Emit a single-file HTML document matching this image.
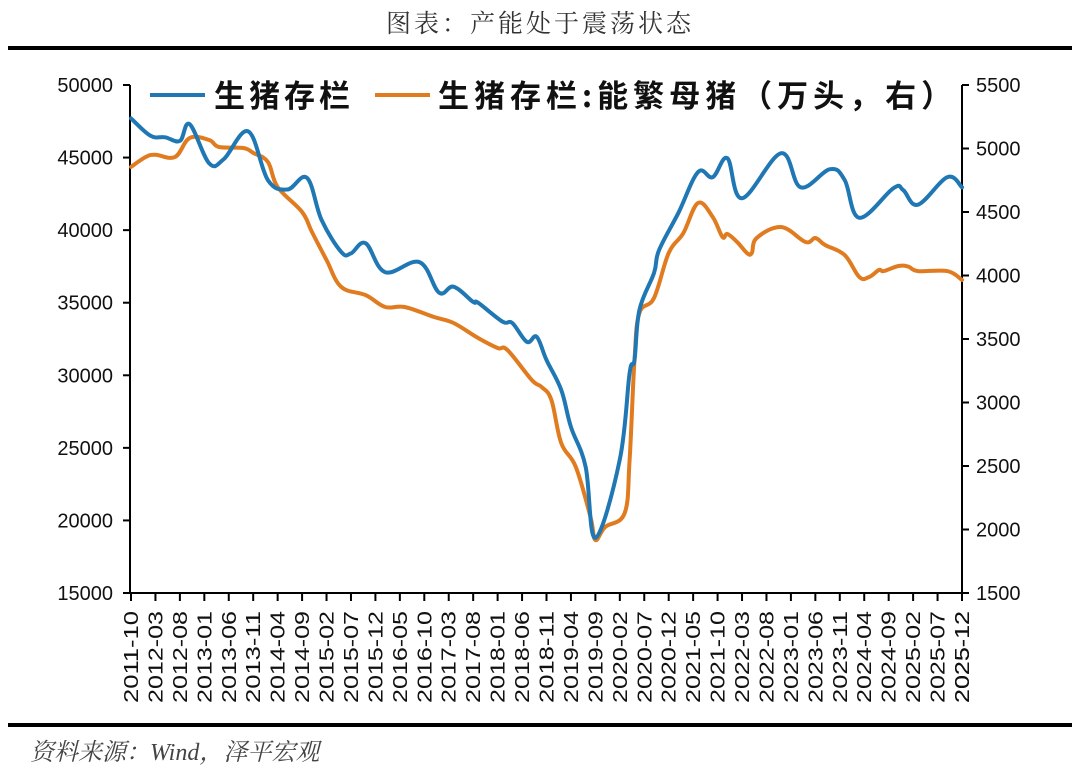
<!DOCTYPE html>
<html><head><meta charset="utf-8"><style>
body{margin:0;background:#fff;width:1080px;height:778px;overflow:hidden;font-family:"Liberation Sans","Noto Sans CJK SC",sans-serif}
</style></head><body>
<svg id="c" width="1080" height="778" xmlns="http://www.w3.org/2000/svg">
<text x="540" y="32" text-anchor="middle" font-size="25" fill="#333" font-family="'Noto Serif CJK SC',serif" letter-spacing="3">图表：产能处于震荡状态</text>
<rect x="8" y="46" width="1064" height="4" fill="#000"/>
<rect x="8" y="723" width="1064" height="4" fill="#000"/>
<text x="30" y="760" font-size="24" fill="#444" font-style="italic" font-family="'Liberation Serif','Noto Serif CJK SC',serif">资料来源：Wind，泽平宏观</text>
<g id="axes"></g>
<g id="series"></g>
<g>
<line x1="150" y1="95" x2="205" y2="95" stroke="#1f77b4" stroke-width="4"/>
<text x="214" y="107" font-size="31" font-weight="bold" fill="#111" font-family="'Noto Sans CJK SC',sans-serif" letter-spacing="4">生猪存栏</text>
<line x1="375" y1="95" x2="430" y2="95" stroke="#e07b20" stroke-width="4"/>
<text x="438" y="107" font-size="31" font-weight="bold" fill="#111" font-family="'Noto Sans CJK SC',sans-serif" letter-spacing="5">生猪存栏:能繁母猪（万头，右）</text>
</g>
</svg>
<script>
const months=[];for(let y=2011,m=10;months.length<171;){months.push(y+'-'+String(m).padStart(2,'0'));m++;if(m>12){m=1;y++;}}
const leftTicks=[15000,20000,25000,30000,35000,40000,45000,50000];
const rightTicks=[1500,2000,2500,3000,3500,4000,4500,5000,5500];
const blueIdx=[0,4,7,10,12,16,19,24,28,32,36,39,43,45,48,52,59,63,66,70,71,76,78,81,83,85,88,90,93,95,100,102,103,104,107,108,112,116,119,122,125,133,137,143,146,149,156,158,161,167,170];
const blueVal=[47700,46500,46400,46150,47300,44600,44900,46800,43450,42800,43600,40700,38500,38400,39100,37100,37800,35700,36100,35050,35000,33700,33600,32300,32650,31050,29000,26450,23700,18800,24200,30150,31050,34500,37050,38600,41200,44000,43650,44950,42200,45300,42950,44200,43450,40850,42900,42750,41750,43650,42950];
const orIdx=[0,3,5,9,12,16,18,23,25,28,30,35,37,40,43,48,52,56,62,66,71,75,77,82,84,86,88,91,94,95,97,101,102,103,104,107,110,113,116,119,121,122,124,126,127,128,133,138,140,142,146,149,151,153,154,157,159,161,167,170];
const orVal=[4855,4933,4950,4933,5083,5067,5012,5004,4965,4894,4697,4500,4343,4122,3910,3846,3752,3752,3673,3626,3508,3429,3413,3177,3122,3020,2681,2492,2098,1917,2020,2130,2547,3335,3705,3823,4177,4335,4571,4461,4303,4327,4264,4177,4177,4295,4382,4264,4295,4240,4161,3988,3988,4043,4035,4075,4070,4035,4035,3965];
const X0=131,X1=962,Y0=85,Y1=593;
const x=i=>X0+i*(X1-X0)/170;
const yl=v=>Y1-(v-15000)/35000*(Y1-Y0);
const yr=v=>Y1-(v-1500)/4000*(Y1-Y0);
const NS='http://www.w3.org/2000/svg';
function mk(t,a,p){const e=document.createElementNS(NS,t);for(const k in a)e.setAttribute(k,a[k]);p.appendChild(e);return e;}
const ax=document.getElementById('axes'),se=document.getElementById('series');
let e=mk('line',{x1:130,y1:Y0,x2:130,y2:Y1,stroke:'#000','stroke-width':2},ax);


e=mk('line',{x1:X1,y1:Y0,x2:X1,y2:Y1,stroke:'#000','stroke-width':2},ax);


e=mk('line',{x1:123,y1:Y1,x2:X1,y2:Y1,stroke:'#000','stroke-width':2},ax);


leftTicks.forEach(v=>{const y=yl(v);
mk('line',{x1:123,y1:y,x2:130,y2:y,stroke:'#000','stroke-width':2},ax);
const t=mk('text',{x:113,y:y+7,'text-anchor':'end','font-size':20,fill:'#111'},ax);t.textContent=v;

});
rightTicks.forEach(v=>{const y=yr(v);
mk('line',{x1:X1,y1:y,x2:X1+7,y2:y,stroke:'#000','stroke-width':2},ax);
const t=mk('text',{x:976,y:y+7,'font-size':20,fill:'#111'},ax);t.textContent=v;

});
function xl(i){const xx=x(i);const t=mk('text',{x:0,y:0,'font-size':20.5,fill:'#111','text-anchor':'end',textLength:92,lengthAdjust:'spacingAndGlyphs',transform:`translate(${xx+7},${Y1+18}) rotate(-90)`},ax);t.textContent=months[i];

}
for(let i=0;i<=170;i+=5){const xx=x(i);
mk('line',{x1:xx,y1:Y1,x2:xx,y2:Y1+8,stroke:'#000','stroke-width':2},ax);xl(i);}
xl(170);
function path(idx,val,f,col,name){const P=idx.map((i,k)=>[x(i),f(val[k])]);let d='M'+P[0][0].toFixed(1)+','+P[0][1].toFixed(1);
for(let k=0;k<P.length-1;k++){const p0=P[k-1]||P[k],p1=P[k],p2=P[k+1],p3=P[k+2]||p2;const t=0.18;
const c1=[p1[0]+(p2[0]-p0[0])*t,p1[1]+(p2[1]-p0[1])*t],c2=[p2[0]-(p3[0]-p1[0])*t,p2[1]-(p3[1]-p1[1])*t];
d+=`C${c1[0].toFixed(1)},${c1[1].toFixed(1)} ${c2[0].toFixed(1)},${c2[1].toFixed(1)} ${p2[0].toFixed(1)},${p2[1].toFixed(1)}`;}
const p=mk('path',{d:d,fill:'none',stroke:col,'stroke-width':4,'stroke-linejoin':'round','stroke-linecap':'round'},se);

}
path(orIdx,orVal,yr,'#e07b20','sow-inventory-line');
path(blueIdx,blueVal,yl,'#1f77b4','hog-inventory-line');
</script>
</body></html>
